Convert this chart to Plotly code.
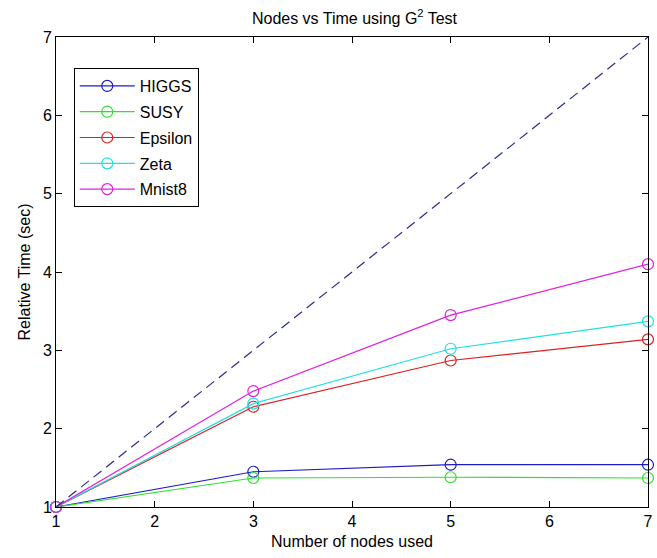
import plotly.graph_objects as go

# Number of nodes and relative run time per dataset
nodes = [1, 3, 5, 7]
higgs = [1.0, 1.45, 1.54, 1.54]
susy = [1.0, 1.37, 1.38, 1.37]
epsilon = [1.0, 2.28, 2.87, 3.14]
zeta = [1.0, 2.32, 3.02, 3.37]
mnist8 = [1.0, 2.48, 3.45, 4.10]

# Ideal linear speed-up reference
ideal_x = [1, 7]
ideal_y = [1, 7]

tick_vals = [1, 2, 3, 4, 5, 6, 7]
tick_text = ["1", "2", "3", "4", "5", "6", "7"]

series = [
    ("HIGGS", higgs, "#1c1cc8"),
    ("SUSY", susy, "#2fe02f"),
    ("Epsilon", epsilon, "#dd2020"),
    ("Zeta", zeta, "#22e0e0"),
    ("Mnist8", mnist8, "#e020e0"),
]

font_family = "Liberation Sans, Arial, sans-serif"

fig = go.Figure()

for name, vals, color in series:
    fig.add_trace(go.Scatter(
        x=nodes, y=vals, name=name, mode="lines+markers",
        legendgroup=name,
        line=dict(color=color, width=1.2),
        marker=dict(symbol="circle-open", size=11, color=color,
                    line=dict(width=1.2, color=color)),
        cliponaxis=False,
    ))

fig.add_trace(go.Scatter(
    x=ideal_x, y=ideal_y, mode="lines", showlegend=False,
    line=dict(color="#2b2b90", width=1.2, dash="10px,6px"),
    cliponaxis=False,
))

axis_common = dict(
    range=[1, 7], tickmode="array", tickvals=tick_vals, ticktext=tick_text,
    showgrid=False, zeroline=False,
    showline=True, linecolor="black", linewidth=1,
    mirror="ticks", ticks="inside", ticklen=6, tickcolor="black",
    ticklabeloverflow="allow",
    tickfont=dict(size=16, color="black", family=font_family),
)

fig.update_layout(
    width=657, height=558,
    margin=dict(l=56, r=4, t=37, b=51),
    paper_bgcolor="white", plot_bgcolor="white",
    font=dict(family=font_family, color="black", size=15),
    title=dict(text="Nodes vs Time using G<sup>2</sup> Test",
               x=(56 + 653) / 2 / 657, xanchor="center",
               y=1 - 18 / 558, yanchor="middle",
               font=dict(size=16, color="black", family=font_family)),
    xaxis=dict(title=dict(text="Number of nodes used", standoff=6,
                          font=dict(size=16)), **axis_common),
    yaxis=dict(title=dict(text="Relative Time (sec)", standoff=8,
                          font=dict(size=16)), **axis_common),
    legend=dict(x=0.03, y=0.934, xanchor="left", yanchor="top",
                bgcolor="white", bordercolor="black", borderwidth=1,
                font=dict(size=16, color="black", family=font_family),
                itemwidth=55,
                traceorder="grouped", tracegroupgap=2),
    showlegend=True,
)

fig.write_html("out.html")
